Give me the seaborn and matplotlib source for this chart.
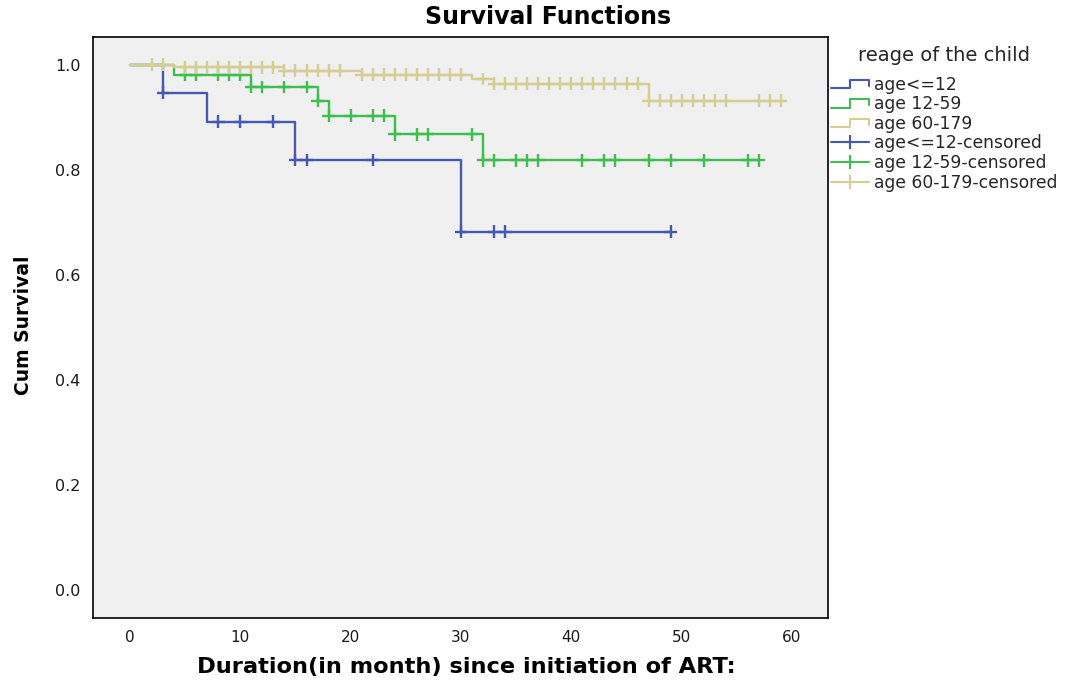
import numpy as np
import pandas as pd
import matplotlib
matplotlib.use("Agg")
import matplotlib.pyplot as plt
import seaborn as sns
from matplotlib.legend_handler import HandlerBase
from matplotlib.lines import Line2D

# ---------------- data ----------------
groups = ["age<=12", "age 12-59", "age 60-179"]
colors = ["#4659B0", "#3DBE4E", "#D5CD94"]

blue_times = [0, 3, 7, 15, 30, 49]
blue_surv = [1.0, 0.947, 0.892, 0.819, 0.682, 0.682]
blue_cens = [3, 8, 10, 13, 15, 16, 22, 30, 33, 34, 49]

green_times = [0, 4, 11, 17, 18, 24, 32, 57]
green_surv = [1.0, 0.981, 0.958, 0.932, 0.903, 0.868, 0.818, 0.818]
green_cens = [5, 6, 8, 9, 10, 11, 12, 14, 16, 17, 18, 20, 22, 23, 24, 26, 27,
              31, 32, 33, 35, 36, 37, 41, 43, 44, 47, 49, 52, 56, 57]

tan_times = [0, 4, 14, 21, 31, 33, 47, 59]
tan_surv = [1.0, 0.995, 0.989, 0.981, 0.973, 0.964, 0.932, 0.932]
tan_cens = [2, 3, 5, 6, 7, 8, 9, 10, 11, 12, 13, 14, 15, 16, 17, 18, 19,
            21, 22, 23, 24, 25, 26, 27, 28, 29, 30, 32, 33, 34, 35, 36, 37,
            38, 39, 40, 41, 42, 43, 44, 45, 46, 47, 48, 49, 50, 51, 52, 53,
            54, 57, 58, 59]

x_ticks = [0, 10, 20, 30, 40, 50, 60]
y_ticks = [0.0, 0.2, 0.4, 0.6, 0.8, 1.0]

title = "Survival Functions"
xlabel = "Duration(in month) since initiation of ART:"
ylabel = "Cum Survival"
legend_title = "reage of the child"

# ---------------- frames ----------------
series = [(blue_times, blue_surv, blue_cens),
          (green_times, green_surv, green_cens),
          (tan_times, tan_surv, tan_cens)]

step_rows, cens_rows = [], []
for g, (tt, ss, cc) in zip(groups, series):
    for t, s in zip(tt, ss):
        step_rows.append({"time": t, "surv": s, "group": g})
    tt_arr = np.asarray(tt)
    for c in cc:
        idx = np.searchsorted(tt_arr, c, side="right") - 1
        cens_rows.append({"time": c, "surv": ss[idx], "group": g})
steps = pd.DataFrame(step_rows)
cens = pd.DataFrame(cens_rows)
pal = dict(zip(groups, colors))

# ---------------- figure ----------------
sns.set_style("white")
plt.rcParams["font.family"] = ["DejaVu Sans"]

W, H = 1065, 686
fig = plt.figure(figsize=(W / 100, H / 100), dpi=100)
L, R, T, B = 93, 828, 37, 618
ax = fig.add_axes([L / W, 1 - B / H, (R - L) / W, (B - T) / H])
ax.set_facecolor("#F0F0F0")

sns.lineplot(data=steps, x="time", y="surv", hue="group", palette=pal,
             hue_order=groups, drawstyle="steps-post", estimator=None,
             linewidth=1.7, legend=False, ax=ax)
sns.scatterplot(data=cens, x="time", y="surv", hue="group", palette=pal,
                hue_order=groups, marker="+", s=85, linewidth=1.7,
                legend=False, ax=ax, zorder=3)

ax.set_xlim(-3.35, 63.26)
ax.set_ylim(-0.053, 1.053)
ax.set_xticks(x_ticks)
ax.set_xticklabels([str(v) for v in x_ticks])
ax.set_yticks(y_ticks)
ax.set_yticklabels([f"{v:.1f}" for v in y_ticks])
ax.tick_params(axis="both", direction="out", length=6, width=1.2,
               color="black", labelsize=11, labelcolor="#1a1a1a", pad=3)
ax.tick_params(axis="y", labelsize=11.5)
for sp in ax.spines.values():
    sp.set_color("black")
    sp.set_linewidth(1.2)
    sp.set_visible(True)

ax.set_xlabel(xlabel, fontsize=16.2, fontweight="bold", color="black")
ax.xaxis.set_label_coords(0.5 + 6 / (R - L), (B - 667) / (B - T))
ax.xaxis.label.set_va("center")
ax.set_ylabel(ylabel, fontsize=13.5, fontweight="bold", color="black")
ax.yaxis.set_label_coords((24 - L) / (R - L), (B - 325) / (B - T))
ax.yaxis.label.set_va("center")

fig.text(548 / W, 1 - 17 / H, title, ha="center", va="center",
         fontsize=17, fontweight="bold", color="black")


# ---------------- legend ----------------
class StepHandler(HandlerBase):
    def __init__(self, color):
        super().__init__()
        self.color = color

    def create_artists(self, legend, orig_handle, xdescent, ydescent,
                       width, height, fontsize, trans):
        x0, y0 = -xdescent, -ydescent
        xs = [x0, x0 + 0.5 * width, x0 + 0.5 * width, x0 + width, x0 + width]
        ys = [y0 + 0.15 * height, y0 + 0.15 * height, y0 + 0.85 * height,
              y0 + 0.85 * height, y0 + 0.35 * height]
        ln = Line2D(xs, ys, color=self.color, lw=1.5, transform=trans)
        return [ln]


step_handles = [Line2D([], [], color=c) for c in colors]
cens_handles = [Line2D([], [], color=c, lw=1.5, marker="+", markersize=10,
                       markeredgewidth=1.5) for c in colors]
handles = step_handles + cens_handles
labels = groups + [g + "-censored" for g in groups]
hmap = {h: StepHandler(c) for h, c in zip(step_handles, colors)}

leg = fig.legend(handles, labels, handler_map=hmap, loc="upper left",
                 bbox_to_anchor=(828 / W, 1 - 43 / H), frameon=False,
                 fontsize=12.3, title=legend_title, title_fontsize=14,
                 handlelength=2.2, handletextpad=0.3, labelspacing=0.09,
                 borderaxespad=0, borderpad=0.2, numpoints=1)
leg._legend_box.sep = 7.5

fig.savefig("out.png", dpi=100, facecolor="white")
